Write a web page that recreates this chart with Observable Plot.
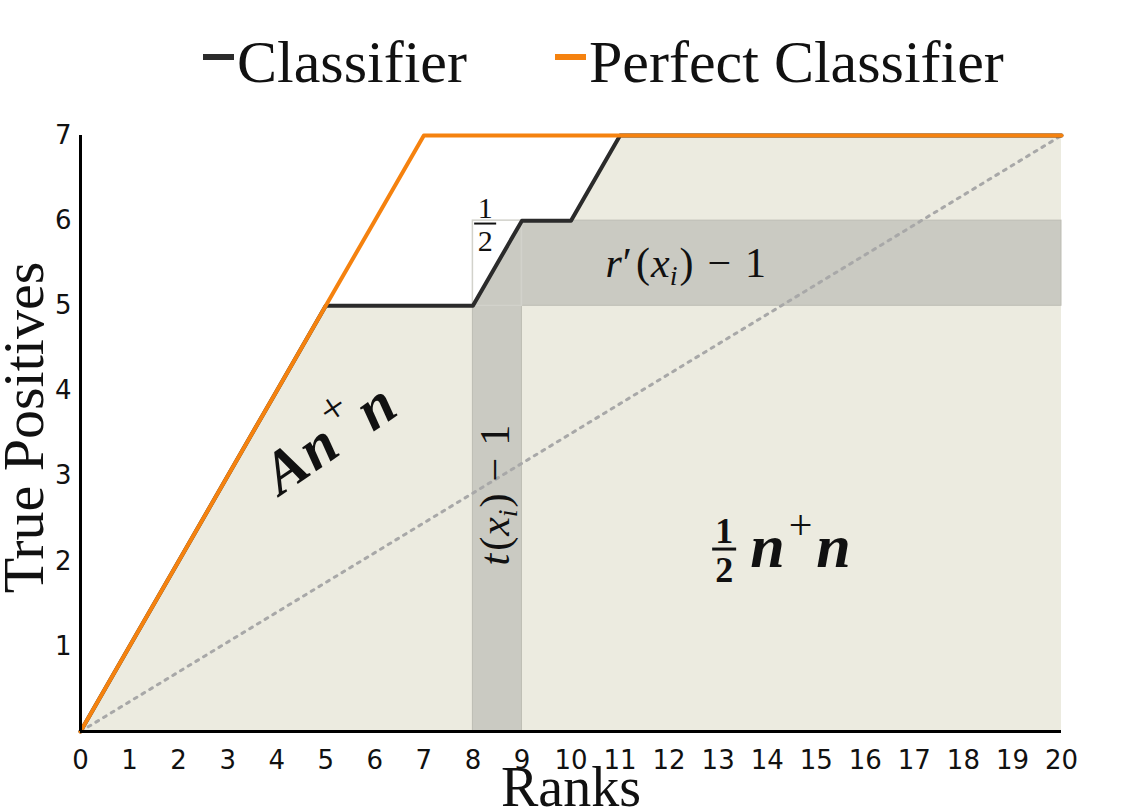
<!DOCTYPE html>
<html>
<head>
<meta charset="utf-8">
<script src="https://cdn.jsdelivr.net/npm/d3@7"></script>
<script src="https://cdn.jsdelivr.net/npm/@observablehq/plot@0.6"></script>
<style>
  html, body { margin: 0; padding: 0; background: #ffffff; }
  #legend { position: relative; width: 1142px; height: 110px; font-family: "Liberation Serif", serif; font-size: 60px; color: #111; }
  #legend .sw { position: absolute; height: 6px; width: 31px; }
  #legend .lb { position: absolute; line-height: 60px; white-space: nowrap; }
</style>
</head>
<body>
<div id="legend"></div>
<div id="chart"></div>
<script>
// ---------------- data ----------------
const ranks        = [0, 1, 2, 3, 4, 5, 6, 7, 8, 9, 10, 11, 12, 13, 14, 15, 16, 17, 18, 19, 20];
const classifierTP = [0, 1, 2, 3, 4, 5, 5, 5, 5, 6, 6, 7, 7, 7, 7, 7, 7, 7, 7, 7, 7];
const perfectTP    = [0, 1, 2, 3, 4, 5, 6, 7, 7, 7, 7, 7, 7, 7, 7, 7, 7, 7, 7, 7, 7];
const chanceRanks  = [0, 20];
const chanceTP     = [0, 7];
const xTicks = [0, 1, 2, 3, 4, 5, 6, 7, 8, 9, 10, 11, 12, 13, 14, 15, 16, 17, 18, 19, 20];
const yTicks = [1, 2, 3, 4, 5, 6, 7];
const highlightRank = 9;   // t(x_i)
const highlightTP   = 6;   // r'(x_i)
const seriesNames = ["Classifier", "Perfect Classifier"];

// ---------------- styles ----------------
const colClf = "#2b2b2b";
const colPerf = "#f5820f";
const beige = "#ecebe0";
const grey = "#cacac2";
const mathFont = "Liberation Serif, serif";

// ---------------- legend ----------------
const legend = d3.select("#legend");
const legendItems = [
  {name: seriesNames[0], color: colClf, sw: 203, lb: 237},
  {name: seriesNames[1], color: colPerf, sw: 555, lb: 589}
];
for (const it of legendItems) {
  legend.append("div").attr("class", "sw").style("left", it.sw + "px").style("top", "54px").style("background", it.color);
  legend.append("div").attr("class", "lb").style("left", it.lb + "px").style("top", "32px").text(it.name);
}

// ---------------- table ----------------
const rows = ranks.map((r, i) => ({rank: r, clf: classifierTP[i], perf: perfectTP[i]}));
const chance = chanceRanks.map((r, i) => ({rank: r, tp: chanceTP[i]}));
const xMax = d3.max(ranks);
const vStrip = [{x1: highlightRank - 1, x2: highlightRank, y1: 0, y2: highlightTP - 1}];
const hStrip = [{x1: highlightRank - 1, x2: xMax, y1: highlightTP - 1, y2: highlightTP}];
const halfBox = [{x1: highlightRank - 1, x2: highlightRank, y1: highlightTP - 1, y2: highlightTP}];

// ---------------- math annotations (custom render marks) ----------------
function mathMark(x, y, rotate, build) {
  return function (index, scales) {
    const g = d3.create("svg:g");
    const t = g.append("g")
      .attr("transform", `translate(${scales.x(x)},${scales.y(y)}) rotate(${rotate})`)
      .attr("font-family", mathFont)
      .attr("fill", "#111");
    build(t);
    return g.node();
  };
}
function addSpans(text, parts) {
  for (const p of parts) {
    const s = text.append("tspan").text(p.t);
    if (p.it) s.attr("font-style", "italic");
    if (p.size) s.attr("font-size", p.size);
    if (p.dy) s.attr("dy", p.dy);
    if (p.dx) s.attr("dx", p.dx);
    if (p.w) s.attr("font-weight", p.w);
  }
}
function fraction(g, cx, top, bottom, lineY, size, halfW, weight) {
  g.append("text").attr("x", cx).attr("y", top).attr("text-anchor", "middle")
    .attr("font-size", size).attr("font-weight", weight).text("1");
  g.append("line").attr("x1", cx - halfW).attr("x2", cx + halfW).attr("y1", lineY).attr("y2", lineY)
    .attr("stroke", "#111").attr("stroke-width", weight === "bold" ? 3 : 2);
  g.append("text").attr("x", cx).attr("y", bottom).attr("text-anchor", "middle")
    .attr("font-size", size).attr("font-weight", weight).text("2");
}

const annAnn = mathMark(5.1, 3.42, -34.5, g => {
  const t = g.append("text").attr("text-anchor", "middle").attr("y", 18)
    .attr("font-size", 60).attr("font-weight", "bold");
  addSpans(t, [
    {t: "A", it: true},
    {t: "n", it: true, dx: 2},
    {t: "+", size: 44, dy: -28, w: "normal", dx: 5},
    {t: "n", it: true, dy: 28, dx: 7}
  ]);
});
const annHalfNN = mathMark(14.58, 2.09, 0, g => {
  fraction(g, -71, -10, 29, -4, 36, 12, "bold");
  const t = g.append("text").attr("text-anchor", "start").attr("x", -45).attr("y", 14)
    .attr("font-size", 62).attr("font-weight", "bold");
  addSpans(t, [
    {t: "n", it: true},
    {t: "+", size: 42, dy: -28, w: "normal", dx: 4},
    {t: "n", it: true, dy: 28, dx: 4}
  ]);
});
const annT = mathMark(8.5, 2.77, -90, g => {
  const t = g.append("text").attr("text-anchor", "middle").attr("y", 12).attr("font-size", 42);
  addSpans(t, [
    {t: "t", it: true},
    {t: "(", dx: 3},
    {t: "x", it: true, dx: 1},
    {t: "i", it: true, size: 28, dy: 8},
    {t: ")", dy: -8, dx: 2},
    {t: "\u2212", dx: 12},
    {t: "1", dx: 12}
  ]);
});
const annR = mathMark(12.35, 5.48, 0, g => {
  const t = g.append("text").attr("text-anchor", "middle").attr("y", 13).attr("font-size", 42);
  addSpans(t, [
    {t: "r", it: true},
    {t: "\u2032", dx: 1},
    {t: "(", dx: 4},
    {t: "x", it: true, dx: 1},
    {t: "i", it: true, size: 28, dy: 8},
    {t: ")", dy: -8, dx: 2},
    {t: "\u2212", dx: 14},
    {t: "1", dx: 14}
  ]);
});
const annHalf = mathMark(8.26, 5.96, 0, g => {
  fraction(g, 0, -6, 27, 0, 30, 11, "normal");
});

// ---------------- plot ----------------
const plot = Plot.plot({
  width: 1142,
  height: 701,
  marginTop: 25,
  marginBottom: 80,
  marginLeft: 80,
  marginRight: 81,
  x: {domain: [0, 20]},
  y: {domain: [0, 7]},
  style: {background: "transparent", overflow: "visible"},
  marks: [
    Plot.areaY(rows, {x: "rank", y: "clf", fill: beige}),
    Plot.rect(vStrip, {x1: "x1", x2: "x2", y1: "y1", y2: "y2", fill: grey, stroke: "#bdbdb4", strokeWidth: 1}),
    Plot.rect(hStrip, {x1: "x1", x2: "x2", y1: "y1", y2: "y2", fill: grey, stroke: "#bdbdb4", strokeWidth: 1}),
    Plot.areaY(rows, {x: "rank", y1: "clf", y2: "perf", fill: "#ffffff"}),
    Plot.rect(halfBox, {x1: "x1", x2: "x2", y1: "y1", y2: "y2", fill: "none", stroke: "#d2d2cb", strokeWidth: 1.5}),
    Plot.line(chance, {x: "rank", y: "tp", stroke: "#a8a8a8", strokeWidth: 3, strokeDasharray: "3,6"}),
    Plot.line(rows, {x: "rank", y: "clf", stroke: colClf, strokeWidth: 4}),
    Plot.line(rows, {x: "rank", y: "perf", stroke: colPerf, strokeWidth: 4}),
    Plot.ruleX([0], {stroke: "#000", strokeWidth: 3}),
    Plot.ruleY([0], {stroke: "#000", strokeWidth: 3}),
    Plot.axisX({ticks: xTicks, tickSize: 0, tickPadding: 19, fontSize: 26, fontFamily: "DejaVu Sans", label: null, color: "#111", tickFormat: d => String(d)}),
    Plot.axisY({ticks: yTicks, tickSize: 0, tickPadding: 9, fontSize: 26, fontFamily: "DejaVu Sans", label: null, color: "#111", tickFormat: d => String(d)}),
    Plot.text(["Ranks"], {frameAnchor: "bottom", dy: 57, lineAnchor: "middle", fontSize: 56, fontFamily: "Liberation Serif", fill: "#111"}),
    Plot.text(["True Positives"], {frameAnchor: "left", dx: -56, dy: -6, rotate: -90, textAnchor: "middle", lineAnchor: "middle", fontSize: 58, fontFamily: "Liberation Serif", fill: "#111"}),
    annAnn, annHalfNN, annT, annR, annHalf
  ]
});
document.getElementById("chart").appendChild(plot);
</script>
</body>
</html>
